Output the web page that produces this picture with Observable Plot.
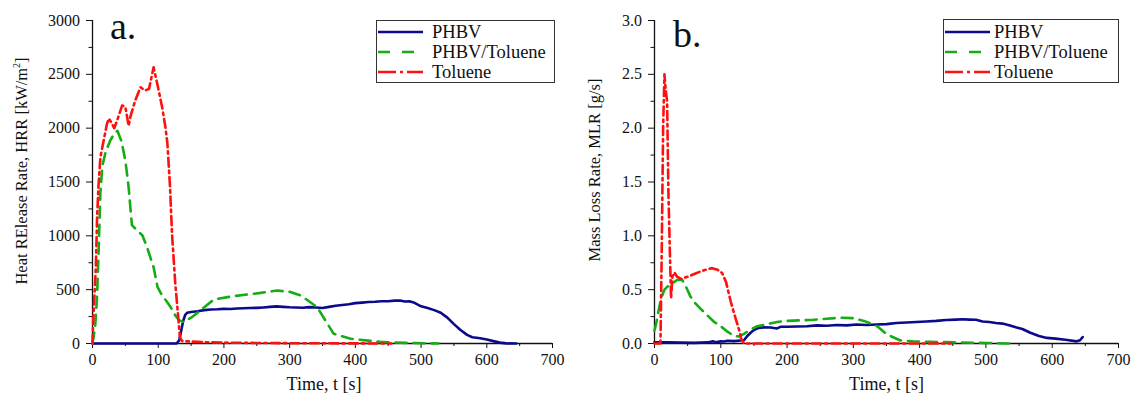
<!DOCTYPE html>
<html>
<head>
<meta charset="utf-8">
<script src="https://cdn.jsdelivr.net/npm/d3@7"></script>
<script src="https://cdn.jsdelivr.net/npm/@observablehq/plot@0.6"></script>
<style>
  html, body { margin: 0; padding: 0; background: #fff; }
  #wrap { position: relative; width: 1131px; height: 394px; overflow: hidden; font-family: "Liberation Serif", serif; }
  #wrap > svg.chartsvg { position: absolute; top: 0; }
  #overlay { position: absolute; left: 0; top: 0; pointer-events: none; }
  #wrap svg, #wrap text, #wrap tspan, #wrap g { font-family: "Liberation Serif", "Times New Roman", serif !important; }
</style>
</head>
<body>
<div id="wrap"></div>
<script>
// ---------- data ----------
const seriesNames = ["PHBV", "PHBV/Toluene", "Toluene"];
const seriesColors = ["#0a0a8c", "#14ad14", "#ff1010"];
const seriesDash = [null, "11,7", "9,4,2.5,4"];

const timeTicks = [0, 100, 200, 300, 400, 500, 600, 700];
const timeMinorTicks = [50, 150, 250, 350, 450, 550, 650];
const hrrTicks = [0, 500, 1000, 1500, 2000, 2500, 3000];
const hrrMinorTicks = [250, 750, 1250, 1750, 2250, 2750];
const mlrTicks = [0, 0.5, 1.0, 1.5, 2.0, 2.5, 3.0];
const mlrMinorTicks = [0.25, 0.75, 1.25, 1.75, 2.25, 2.75];

// Heat release rate (kW/m2)
const hrrPhbvT = [0, 50, 100, 128, 132, 135, 138, 141, 144, 150, 160, 170, 180, 190, 200, 210, 220, 230, 240, 250, 260, 270, 280, 290, 300, 310, 320, 330, 340, 350, 360, 370, 380, 390, 400, 410, 420, 430, 440, 450, 460, 468, 475, 482, 490, 500, 510, 520, 530, 540, 550, 560, 570, 578, 590, 600, 610, 620, 630, 645];
const hrrPhbvV = [0, 0, 0, 0, 30, 120, 210, 265, 285, 292, 300, 310, 316, 318, 322, 320, 325, 327, 330, 331, 335, 340, 345, 340, 336, 334, 332, 338, 334, 330, 340, 350, 358, 365, 375, 380, 385, 388, 393, 392, 398, 400, 390, 392, 378, 345, 330, 310, 285, 240, 180, 125, 80, 58, 48, 38, 22, 8, 1, 0];

const hrrMixT = [0, 4, 7, 9, 12, 15, 20, 27, 33, 38, 44, 50, 55, 60, 63, 70, 76, 83, 93, 99, 106, 113, 119, 126, 132, 139, 150, 164, 185, 215, 256, 281, 300, 317, 342, 367, 393, 438, 480, 526];
const hrrMixV = [0, 150, 450, 800, 1400, 1650, 1780, 1885, 1950, 1975, 1880, 1700, 1450, 1100, 1080, 1040, 1003, 894, 708, 523, 446, 390, 337, 260, 215, 200, 240, 306, 410, 440, 470, 492, 480, 446, 337, 90, 44, 15, 5, 0];

const hrrTolT = [0, 1, 3, 5, 7, 9, 12, 17, 22, 25, 29, 33, 38, 45, 50, 55, 58, 65, 73, 80, 86, 93, 99, 106, 111, 114, 118, 121, 126, 130, 133, 136, 145, 170, 200, 250, 300, 350, 400, 455];
const hrrTolV = [0, 200, 450, 700, 1170, 1450, 1730, 1885, 2040, 2090, 2050, 2000, 2080, 2210, 2200, 2020, 2115, 2256, 2380, 2350, 2365, 2565, 2400, 2194, 2008, 1857, 1451, 1019, 554, 276, 60, 25, 20, 12, 8, 5, 3, 2, 1, 0];

// Mass loss rate (g/s)
const mlrPhbvT = [0, 20, 40, 60, 80, 88, 92, 100, 105, 110, 120, 130, 135, 140, 145, 150, 157, 165, 175, 185, 190, 200, 215, 230, 245, 260, 275, 290, 305, 320, 335, 350, 365, 380, 395, 410, 425, 440, 455, 465, 475, 485, 495, 505, 515, 525, 535, 545, 555, 567, 580, 592, 605, 620, 637, 642, 646];
const mlrPhbvV = [0.01, 0.01, 0.008, 0.006, 0.01, 0.02, 0.012, 0.02, 0.018, 0.025, 0.022, 0.028, 0.03, 0.07, 0.1, 0.125, 0.145, 0.15, 0.148, 0.14, 0.155, 0.155, 0.158, 0.16, 0.168, 0.165, 0.172, 0.168, 0.176, 0.172, 0.176, 0.18, 0.19, 0.195, 0.2, 0.205, 0.21, 0.218, 0.222, 0.225, 0.222, 0.22, 0.205, 0.2, 0.19, 0.185, 0.17, 0.15, 0.135, 0.1, 0.07, 0.052, 0.045, 0.035, 0.02, 0.03, 0.06];

const mlrMixT = [0, 3, 6, 10, 15, 20, 27, 34, 42, 48, 54, 62, 70, 80, 90, 100, 110, 120, 127, 135, 145, 155, 170, 185, 200, 220, 240, 260, 281, 300, 316, 336, 351, 371, 390, 416, 457, 500, 537];
const mlrMixV = [0.12, 0.2, 0.3, 0.42, 0.5, 0.53, 0.56, 0.59, 0.59, 0.52, 0.44, 0.37, 0.32, 0.26, 0.2, 0.16, 0.11, 0.07, 0.065, 0.09, 0.13, 0.16, 0.18, 0.2, 0.21, 0.215, 0.22, 0.23, 0.24, 0.235, 0.21, 0.16, 0.083, 0.028, 0.02, 0.015, 0.01, 0.005, 0];

const mlrTolT = [0, 9, 11, 13, 15, 17, 19, 21, 23, 25, 27, 30, 34, 40, 50, 60, 70, 80, 87, 95, 102, 108, 115, 121, 127, 131, 135, 200, 300, 400, 447];
const mlrTolV = [0, 0, 0.9, 2.0, 2.5, 2.35, 2.25, 1.4, 0.9, 0.42, 0.62, 0.66, 0.62, 0.6, 0.62, 0.645, 0.67, 0.69, 0.7, 0.685, 0.655, 0.57, 0.39, 0.26, 0.14, 0.04, 0, 0, 0, 0, 0];

// ---------- build ----------
const zipTV = (T, V) => T.map((t, i) => ({t, v: V[i]}));
const FONT = "'Liberation Serif', 'Times New Roman', serif";

function panel({series, yDomain, yTicks, yMinor, yFormat, marginLeft, width}) {
  const marks = [
    Plot.axisX({ticks: timeTicks, tickSize: 5, tickPadding: 5, label: null, fontSize: 16, fontFamily: FONT}),
    Plot.axisX({ticks: timeMinorTicks, tickSize: 3, tickFormat: () => "", label: null}),
    Plot.axisY({ticks: yTicks, tickSize: 6, tickPadding: 6.5, tickFormat: yFormat, label: null, fontSize: 16, fontFamily: FONT}),
    Plot.axisY({ticks: yMinor, tickSize: 3.5, tickFormat: () => "", label: null}),
    Plot.ruleX([0], {y1: yDomain[0], y2: yDomain[1], stroke: "#111", strokeWidth: 1.3}),
    Plot.ruleY([yDomain[0]], {x1: 0, x2: 700, stroke: "#111", strokeWidth: 1.3})
  ];
  series.forEach((data, i) => {
    const o = {x: "t", y: "v", stroke: seriesColors[i], strokeWidth: 2.6, strokeLinejoin: "round"};
    if (seriesDash[i]) o.strokeDasharray = seriesDash[i];
    marks.push(Plot.line(data, o));
  });
  const svg = Plot.plot({
    width, height: 394,
    marginLeft, marginRight: 13, marginTop: 20, marginBottom: 51,
    x: {domain: [0, 700], label: null},
    y: {domain: yDomain, label: null},
    style: {fontFamily: FONT, fontSize: "16px", color: "#111", background: "transparent", overflow: "visible"},
    marks
  });
  svg.classList.add("chartsvg");
  svg.setAttribute("font-family", FONT);
  return svg;
}

const wrap = document.getElementById("wrap");
const left = panel({
  series: [zipTV(hrrPhbvT, hrrPhbvV), zipTV(hrrMixT, hrrMixV), zipTV(hrrTolT, hrrTolV)],
  yDomain: [0, 3000], yTicks: hrrTicks, yMinor: hrrMinorTicks, yFormat: d => String(d),
  marginLeft: 92, width: 565
});
left.style.left = "0px";
const right = panel({
  series: [zipTV(mlrPhbvT, mlrPhbvV), zipTV(mlrMixT, mlrMixV), zipTV(mlrTolT, mlrTolV)],
  yDomain: [0, 3], yTicks: mlrTicks, yMinor: mlrMinorTicks, yFormat: d3.format(".1f"),
  marginLeft: 89, width: 566
});
right.style.left = "565px";
wrap.appendChild(left);
wrap.appendChild(right);

// ---------- overlay texts & legends ----------
const NS = "http://www.w3.org/2000/svg";
const ov = document.createElementNS(NS, "svg");
ov.setAttribute("id", "overlay");
ov.setAttribute("width", 1131);
ov.setAttribute("height", 394);
ov.setAttribute("font-family", FONT);
wrap.appendChild(ov);

function txt(x, y, s, size, attrs = {}) {
  const t = document.createElementNS(NS, "text");
  t.setAttribute("x", x); t.setAttribute("y", y);
  t.setAttribute("font-size", size);
  t.setAttribute("font-family", FONT);
  t.setAttribute("fill", "#111");
  for (const k in attrs) t.setAttribute(k, attrs[k]);
  t.textContent = s;
  ov.appendChild(t);
  return t;
}
function el(name, attrs) {
  const e = document.createElementNS(NS, name);
  for (const k in attrs) e.setAttribute(k, attrs[k]);
  ov.appendChild(e);
  return e;
}

txt(110, 39, "a.", 38);
txt(673, 46.5, "b.", 38);
txt(324, 390, "Time, t [s]", 18, {"text-anchor": "middle"});
txt(886.5, 390, "Time, t [s]", 18, {"text-anchor": "middle"});

// y labels
const yl = txt(0, 0, "Heat RElease Rate, HRR [kW/m", 16.5, {"text-anchor": "middle", transform: "translate(27,171) rotate(-90)"});
const sup = document.createElementNS(NS, "tspan");
sup.setAttribute("font-size", 10); sup.setAttribute("dy", -7);
sup.textContent = "2";
yl.appendChild(sup);
const cl = document.createElementNS(NS, "tspan");
cl.setAttribute("dy", 7);
cl.textContent = "]";
yl.appendChild(cl);
txt(0, 0, "Mass Loss Rate, MLR [g/s]", 16.5, {"text-anchor": "middle", transform: "translate(600,170) rotate(-90)"});

function legend(bx, by, bw, bh, lx1, lx2, tx) {
  el("rect", {x: bx, y: by, width: bw, height: bh, fill: "white", stroke: "#333", "stroke-width": 1});
  const rows = [32, 52, 72];
  const legDash = [null, "12,12", "18,4,3,4"];
  seriesNames.forEach((name, i) => {
    const a = {x1: lx1, x2: lx2, y1: rows[i], y2: rows[i], stroke: seriesColors[i], "stroke-width": 2.6};
    if (legDash[i]) a["stroke-dasharray"] = legDash[i];
    el("line", a);
    txt(tx, rows[i] + 5.6, name, 18.5);
  });
}
legend(376.5, 20.5, 178, 62, 378, 423, 432);
legend(943.5, 19.5, 175, 63, 945, 990, 994);
</script>
</body>
</html>
